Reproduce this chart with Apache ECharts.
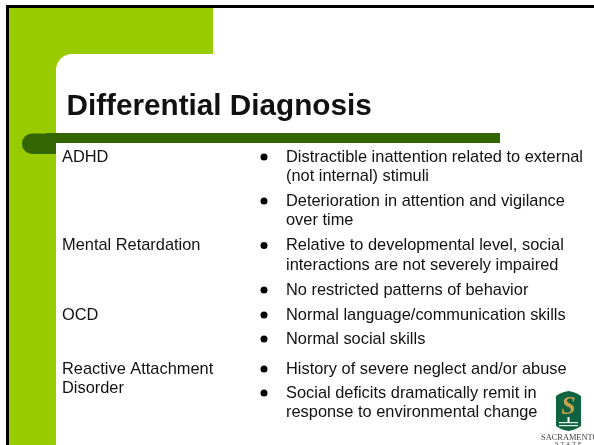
<!DOCTYPE html>
<html>
<head>
<meta charset="utf-8">
<style>
  html, body { margin: 0; padding: 0; background: #fff; }
  #chart { width: 594px; height: 445px; }
</style>
<script src="https://cdn.jsdelivr.net/npm/echarts@6/dist/echarts.min.js"></script>
</head>
<body>
<div id="chart"></div>
<script>
const titleText = 'Differential Diagnosis'

// left column terms and the y of each first line's middle
const terms = ['ADHD', 'Mental Retardation', 'OCD', 'Reactive Attachment\nDisorder']
const termMids = [157, 245.5, 315, 369]

// right column bullets
const bullets = [
  'Distractible inattention related to external\n(not internal) stimuli',
  'Deterioration in attention and vigilance\nover time',
  'Relative to developmental level, social\ninteractions are not severely impaired',
  'No restricted patterns of behavior',
  'Normal language/communication skills',
  'Normal social skills',
  'History of severe neglect and/or abuse',
  'Social deficits dramatically remit in\nresponse to environmental change'
]
const bulletMids = [157, 201, 245.5, 290, 315, 339, 369, 393]

const GREEN = '#99cc00'
const DARK = '#336600'
const FONT = '"Liberation Sans", Arial, sans-serif'
const BODY_SIZE = 16.4
const LINE = 19.6

const chart = echarts.init(document.getElementById('chart'), null, { renderer: 'canvas' })

const rect = (x, y, width, height, fill, r) => ({
  type: 'rect',
  silent: true,
  shape: { x, y, width, height, r: r || 0 },
  style: { fill }
})

const text = (x, y, str, size, weight) => ({
  type: 'text',
  silent: true,
  x, y,
  style: {
    text: str,
    fill: '#111',
    font: (weight || 'normal') + ' ' + size + 'px ' + FONT,
    lineHeight: LINE,
    textVerticalAlign: 'top'
  }
})

const elements = [
  // frame and green panel
  rect(6, 5, 588, 440, '#000'),
  rect(9, 8, 585, 437, '#fff'),
  rect(9, 8, 204, 46, GREEN),
  rect(9, 8, 47, 437, GREEN),
  rect(56, 54, 20, 20, GREEN),
  rect(56, 54, 538, 391, '#fff', [16, 0, 0, 0]),
  // dark bar with rounded cap
  rect(22, 133.5, 34, 20.5, DARK, [10, 0, 0, 10]),
  rect(46, 133, 454, 10, DARK),
  text(66.5, 97, titleText, 29.7, 'bold')
]

terms.forEach((t, i) => elements.push(text(62, termMids[i] - LINE / 2, t, BODY_SIZE)))

bullets.forEach((b, i) => {
  elements.push({
    type: 'circle',
    silent: true,
    shape: { cx: 264, cy: bulletMids[i], r: 3.5 },
    style: { fill: '#000' }
  })
  elements.push(text(286, bulletMids[i] - LINE / 2, b, BODY_SIZE))
})

// logo: shield, gold flame, white water lines, wordmark
elements.push({
  type: 'polygon',
  silent: true,
  shape: {
    points: [[556, 396], [560, 393.5], [564, 392], [568.5, 391], [573, 392], [577, 393.5], [581, 396],
      [581, 426], [577, 428.5], [573, 430], [568.5, 431], [564, 430], [560, 428.5], [556, 426]]
  },
  style: { fill: '#0f6340' }
})
elements.push({
  type: 'text',
  silent: true,
  x: 568.5, y: 407,
  style: { text: 'S', fill: '#c8a24a', font: 'bold italic 26px "Liberation Serif", serif', textAlign: 'center', textVerticalAlign: 'middle' }
})
elements.push(rect(567.5, 417, 2, 5, '#fff'))
elements.push(rect(559, 422, 19, 1.2, '#e6efe9'))
elements.push(rect(559, 425, 19, 1.2, '#e6efe9'))
elements.push({
  type: 'text',
  silent: true,
  x: 541, y: 437.5,
  style: { text: 'SACRAMENTO', fill: '#444', font: '8.4px "Liberation Serif", serif', textVerticalAlign: 'middle' }
})
elements.push({
  type: 'text',
  silent: true,
  x: 555, y: 444,
  style: { text: 'S T A T E', fill: '#444', font: '6.5px "Liberation Serif", serif', textVerticalAlign: 'middle' }
})

chart.setOption({
  backgroundColor: '#fff',
  animation: false,
  graphic: { elements }
})
</script>
</body>
</html>
